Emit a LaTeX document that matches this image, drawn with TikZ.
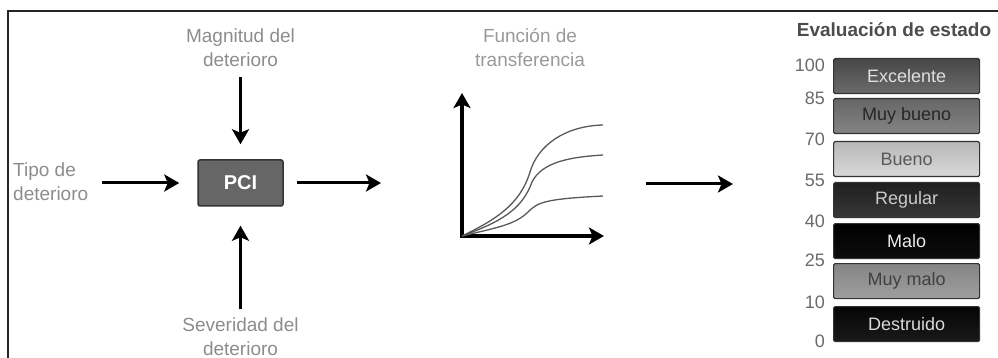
\documentclass[tikz,border=0pt]{standalone}
\usepackage{fontspec}
\setmainfont{Liberation Sans}
\usetikzlibrary{arrows.meta}
\definecolor{gristexto}{HTML}{8C8C8C}
\definecolor{grisnum}{HTML}{6A6A6A}
\newcommand\letra[1]{\fontsize{#1}{24}\selectfont}
\tikzset{
  flecha/.style={-{Stealth[length=15pt,width=17pt,inset=3.5pt]}, line width=3pt},
  etiqueta/.style={text=gristexto, align=center, inner sep=0pt, font=\letra{19}},
  estado/.style={draw=black!80, line width=1.2pt, rounded corners=1.5pt, anchor=north west,
    minimum width=146pt, minimum height=35pt, inner sep=0pt, font=\letra{18}},
  curva/.style={draw=black!65, line width=1.3pt}
}
\begin{document}
\begin{tikzpicture}[x=1pt, y=-1pt]
  \useasboundingbox (0,0) rectangle (998,358);
  \draw[line width=2pt, black!85] (8,360) -- (8,11) -- (1000,11);

  % entradas del PCI
  \node [draw=black!80, fill=black!60, rounded corners=2pt, line width=1.5pt, minimum width=85pt,
    minimum height=46pt, text=white, font=\bfseries\letra{20}] (pci) at (240.5,183) {PCI};
  \node [etiqueta] (magnitud) at (240.5,47.5) {Magnitud del\\deterioro};
  \node [etiqueta, align=left, anchor=west] (tipo) at (13,181.5) {Tipo de\\deterioro};
  \node [etiqueta] (severidad) at (240.5,336.5) {Severidad del\\deterioro};
  \coordinate (salida) at (381,183);
  \draw [flecha, shorten <=10pt, shorten >=15pt] (magnitud.south) -- (pci.north);
  \draw [flecha, shorten <=14pt, shorten >=18pt] (tipo.east |- pci.west) -- (pci.west);
  \draw [flecha, shorten <=8pt, shorten >=19pt] (severidad.north) -- (pci.south);
  \draw [flecha, shorten <=13pt] (pci.east) -- (salida);

  % funcion de transferencia
  \node [etiqueta, text=black!40] (funcion) at (530,48) {Función de\\transferencia};
  \coordinate (origen) at (462,236);
  \coordinate (ejey) at (462,93);
  \coordinate (ejex) at (604,236);
  \draw [{Stealth[length=15pt,width=17pt,inset=3.5pt]}-{Stealth[length=15pt,width=17pt,inset=3.5pt]}, line width=4pt]
    (ejey) -- (origen) -- (ejex);
  \draw [curva] (origen) .. controls (495,220) and (520,205) .. (530,172) .. controls (538,145) and (565,126) .. (603,125);
  \draw [curva] (origen) .. controls (500,222) and (522,210) .. (532,182) .. controls (542,162) and (570,157) .. (603,155);
  \draw [curva] (origen) .. controls (495,228) and (515,225) .. (528,212) .. controls (538,202) and (545,199) .. (603,196);
  \coordinate (ini) at (646,184);
  \coordinate (fin) at (733,184);
  \draw [flecha] (ini) -- (fin);

  % evaluacion de estado
  \node [text=black!70, font=\bfseries\letra{19}] (titulo) at (894,30) {Evaluación de estado};
  \foreach \etq/\y/\arriba/\abajo/\tinta [count=\i] in {
      Excelente/58/72/58/black!12, Muy bueno/98/60/48/black!85,
      Bueno/141/28/15/black!65, Regular/182/88/78/black!20,
      Malo/223/100/95/black!8, Muy malo/263/48/38/black!75,
      Destruido/306/98/90/black!15}
    \node [estado, top color=black!\arriba, bottom color=black!\abajo, text=\tinta] (est\i) at (833,\y) {\etq};
  \foreach \v/\y in {100/65, 85/98, 70/139, 55/180, 40/221, 25/260, 10/302, 0/341}
    \node [anchor=east, inner sep=0pt, text=grisnum, font=\letra{18}] (num\v) at (825,\y) {\v};
\end{tikzpicture}
\end{document}
